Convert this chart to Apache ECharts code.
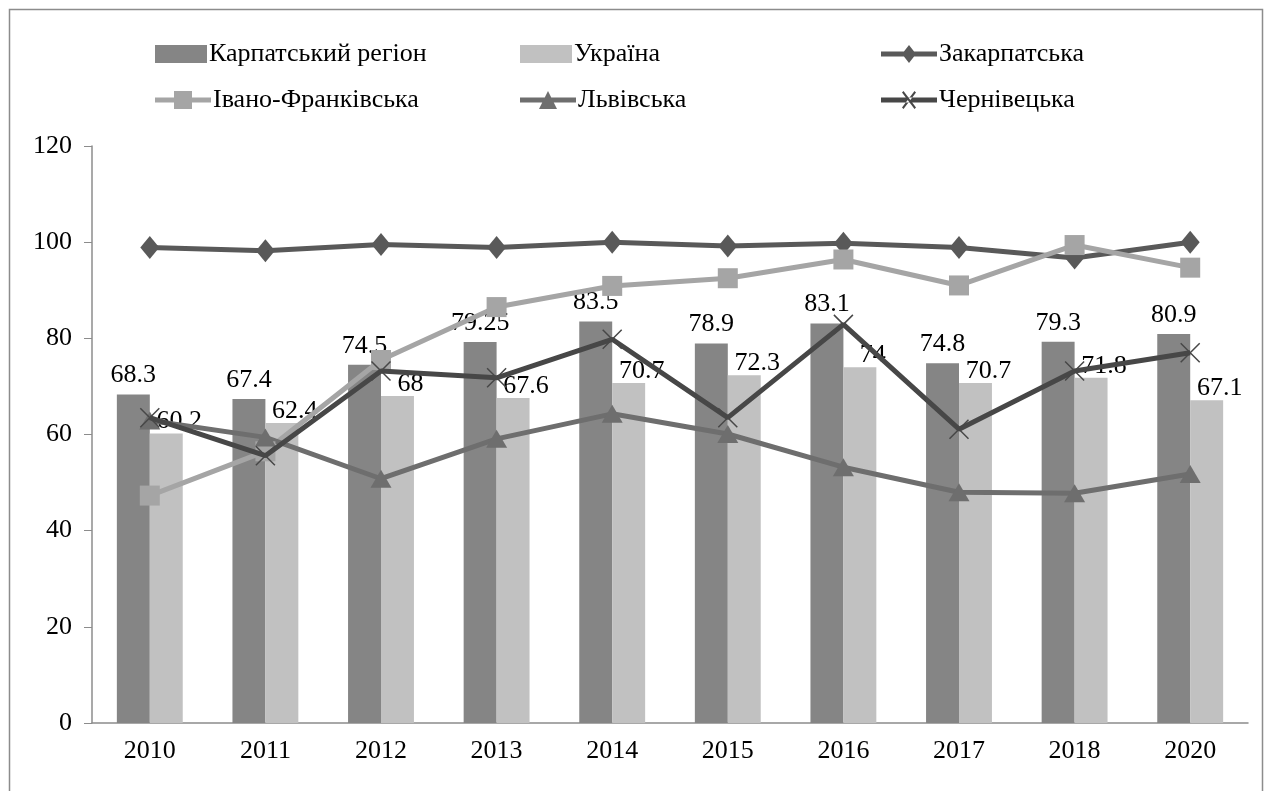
<!DOCTYPE html>
<html><head><meta charset="utf-8">
<script src="https://cdn.jsdelivr.net/npm/echarts@6/dist/echarts.min.js"></script>
<style>html,body{margin:0;padding:0;background:#fff}#c{width:1266px;height:791px}</style>
</head><body><div id="c"></div>
<script>
const years = ['2010','2011','2012','2013','2014','2015','2016','2017','2018','2020'];
const carpathian = [68.3, 67.4, 74.5, 79.25, 83.5, 78.9, 83.1, 74.8, 79.3, 80.9];
const ukraine = [60.2, 62.4, 68, 67.6, 70.7, 72.3, 74, 70.7, 71.8, 67.1];
const zakarpatska = [98.9, 98.2, 99.5, 98.9, 100, 99.2, 99.8, 98.9, 96.7, 100];
const ivanoFrankivska = [47.3, 56.5, 75.5, 86.5, 90.9, 92.5, 96.4, 91.0, 99.4, 94.7];
const lvivska = [62.9, 59.4, 50.8, 59.1, 64.3, 60.1, 53.2, 48.0, 47.8, 51.8];
const chernivetska = [63.5, 55.6, 73.2, 71.8, 79.8, 63.5, 82.9, 61.1, 73.2, 77.0];

const FONT = '"Liberation Serif", "DejaVu Serif", serif';
const names = ['Карпатський регіон','Україна','Закарпатська','Івано-Франківська','Львівська','Чернівецька'];
const legendLeft = [150, 515, 876, 150, 515, 876];
const legendTop = [36, 36, 36, 82, 82, 82];

const LINE = 'M0,6.5 H56 V11.5 H0 Z ';
const icons = [
  'rect', 'rect',
  'path://' + LINE + 'M28,0 L35,9 L28,18 L21,9 Z',
  'path://' + LINE + 'M19,0 H37 V18 H19 Z',
  'path://' + LINE + 'M28,0 L37,18 L19,18 Z',
  'path://' + LINE + 'M21,1.5 L22.5,0 L35,16.5 L33.5,18 Z M35,1.5 L33.5,0 L21,16.5 L22.5,18 Z'
];
const iconW = [52, 52, 56, 56, 56, 56];
const legendColors = ['#858585', '#c1c1c1', '#595959', '#a5a5a5', '#6e6e6e', '#474747'];

const chart = echarts.init(document.getElementById('c'), null, {renderer:'canvas'});
chart.setOption({
  animation: false,
  backgroundColor: '#fff',
  textStyle: {fontFamily: FONT},
  legend: names.map((n, i) => ({
    data: [{name: n, icon: icons[i], itemStyle: {color: legendColors[i], borderWidth: 0}}],
    left: legendLeft[i],
    top: legendTop[i],
    itemWidth: iconW[i], itemHeight: 18, itemGap: 4,
    textStyle: {fontFamily: FONT, fontSize: 26, color: '#000', padding: [0,0,0,-3]},
    selectedMode: false
  })),
  grid: {left: 92, right: 18, top: 146, bottom: 68},
  xAxis: {
    type: 'category', data: years,
    axisLine: {lineStyle: {color: '#8c8c8c', width: 1.5}},
    axisTick: {show: false},
    axisLabel: {fontFamily: FONT, fontSize: 26, color: '#000', margin: 15}
  },
  yAxis: {
    type: 'value', min: 0, max: 120, interval: 20,
    axisLine: {show: true, lineStyle: {color: '#8c8c8c', width: 1.5}},
    axisTick: {show: true, inside: false, length: 8, lineStyle: {color: '#8c8c8c'}},
    splitLine: {show: false},
    axisLabel: {fontFamily: FONT, fontSize: 26, color: '#000', margin: 20}
  },
  graphic: [{type:'rect', shape:{x:9.5,y:9.5,width:1253,height:800}, style:{fill:'none', stroke:'#8c8c8c', lineWidth:1.5}, silent:true, z:-1}],
  series: [
    {name: names[0], type: 'bar', data: carpathian, barGap: '0%', barCategoryGap: '43%',
     itemStyle: {color: '#858585'},
     label: {show: true, position: 'top', distance: 6, fontFamily: FONT, fontSize: 26, color: '#000'}, z: 2},
    {name: names[1], type: 'bar', data: ukraine,
     itemStyle: {color: '#c1c1c1'},
     label: {show: true, position: 'top', distance: -1, offset: [13, 0], fontFamily: FONT, fontSize: 26, color: '#000'}, z: 2},
    {name: names[2], type: 'line', data: zakarpatska, symbol: 'diamond', symbolSize: [19, 23],
     lineStyle: {color: '#595959', width: 5}, itemStyle: {color: '#595959'}, z: 5},
    {name: names[3], type: 'line', data: ivanoFrankivska, symbol: 'rect', symbolSize: 20,
     lineStyle: {color: '#a5a5a5', width: 5}, itemStyle: {color: '#a5a5a5'}, z: 5},
    {name: names[4], type: 'line', data: lvivska, symbol: 'triangle', symbolSize: [21, 18],
     lineStyle: {color: '#6e6e6e', width: 5}, itemStyle: {color: '#6e6e6e'}, z: 5},
    {name: names[5], type: 'line', data: chernivetska,
     symbol: 'path://M0,0 L10,10 M10,0 L0,10', symbolSize: 19,
     lineStyle: {color: '#474747', width: 5},
     itemStyle: {color: '#474747', borderColor: '#474747', borderWidth: 1.5}, z: 6}
  ]
});
</script></body></html>
